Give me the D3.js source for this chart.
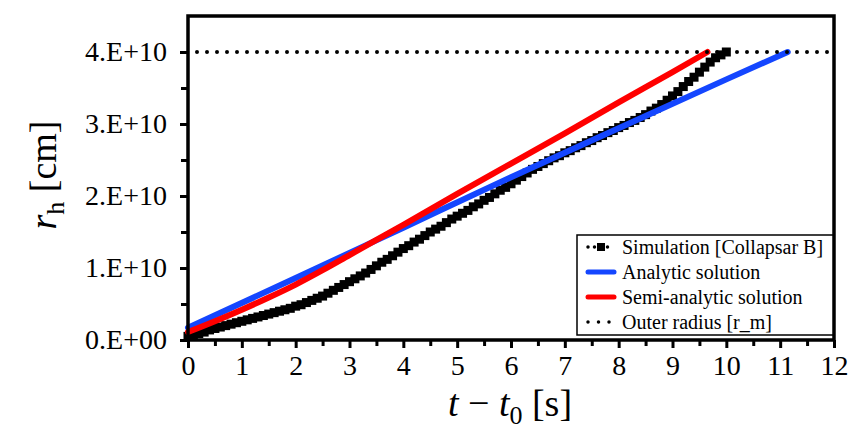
<!DOCTYPE html>
<html>
<head>
<meta charset="utf-8">
<script src="https://cdn.jsdelivr.net/npm/d3@7"></script>
<style>
  body { margin: 0; background: #fff; }
  svg { display: block; font-family: "Liberation Serif", "Times New Roman", serif; }
</style>
</head>
<body>
<div id="chart"></div>
<script>
// values in units of 1e10 cm, time in s
const simT = [0.0, 0.1, 0.2, 0.3, 0.4, 0.5, 0.6, 0.7, 0.8, 0.9,
              1.0, 1.1, 1.2, 1.3, 1.4, 1.5, 1.6, 1.7, 1.8, 1.9,
              2.0, 2.1, 2.2, 2.3, 2.4, 2.5, 2.6, 2.7, 2.8, 2.9,
              3.0, 3.1, 3.2, 3.3, 3.4, 3.5, 3.6, 3.7, 3.8, 3.9,
              4.0, 4.1, 4.2, 4.3, 4.4, 4.5, 4.6, 4.7, 4.8, 4.9,
              5.0, 5.1, 5.2, 5.3, 5.4, 5.5, 5.6, 5.7, 5.8, 5.9,
              6.0, 6.1, 6.2, 6.3, 6.4, 6.5, 6.6, 6.7, 6.8, 6.9,
              7.0, 7.1, 7.2, 7.3, 7.4, 7.5, 7.6, 7.7, 7.8, 7.9,
              8.0, 8.1, 8.2, 8.3, 8.4, 8.5, 8.6, 8.7, 8.8, 8.9,
              9.0, 9.1, 9.2, 9.3, 9.4, 9.5, 9.6, 9.7, 9.8, 9.9, 10.0];
const simR = [0.05, 0.07, 0.09, 0.11, 0.14, 0.16, 0.18, 0.20, 0.22, 0.24,
              0.26, 0.28, 0.30, 0.32, 0.34, 0.36, 0.38, 0.40, 0.42, 0.44,
              0.47, 0.49, 0.52, 0.55, 0.58, 0.61, 0.65, 0.69, 0.73, 0.77,
              0.81, 0.85, 0.89, 0.93, 0.98, 1.03, 1.08, 1.12, 1.17, 1.22,
              1.27, 1.31, 1.36, 1.40, 1.45, 1.50, 1.54, 1.58, 1.63, 1.68,
              1.72, 1.76, 1.80, 1.85, 1.89, 1.94, 1.98, 2.03, 2.08, 2.12,
              2.17, 2.22, 2.27, 2.32, 2.37, 2.41, 2.45, 2.49, 2.53, 2.56,
              2.60, 2.63, 2.67, 2.70, 2.74, 2.77, 2.81, 2.84, 2.88, 2.91,
              2.95, 2.98, 3.02, 3.05, 3.09, 3.13, 3.18, 3.22, 3.27, 3.33,
              3.39, 3.45, 3.52, 3.59, 3.65, 3.72, 3.79, 3.86, 3.92, 3.96, 4.00];

const anaT = [0, 2, 4, 6, 8, 10, 11.14];
const anaR = [0.17, 0.86, 1.56, 2.26, 2.94, 3.62, 4.00];

const semiT = [0, 0.5, 1, 1.5, 2, 2.5, 3, 3.5, 4, 5, 6, 7, 8, 9, 9.65];
const semiR = [0.11, 0.26, 0.42, 0.59, 0.77, 0.97, 1.18, 1.39, 1.60, 2.03, 2.45, 2.87, 3.30, 3.72, 4.00];

const outerR = 4.0;

const xTicks = [0, 1, 2, 3, 4, 5, 6, 7, 8, 9, 10, 11, 12];
const yTicks = [0, 1, 2, 3, 4];
const yTickLabels = ["0.E+00", "1.E+10", "2.E+10", "3.E+10", "4.E+10"];

const legendLabels = ["Simulation [Collapsar B]", "Analytic solution",
                      "Semi-analytic solution", "Outer radius [r_m]"];

const W = 864, H = 432;
const blue = "#1446ff", red = "#ff0000";
const serif = "'Liberation Serif', 'Times New Roman', serif";

const svg = d3.select("#chart").append("svg")
    .attr("width", W).attr("height", H);

const x = d3.scaleLinear().domain([0, 12]).range([188, 834]);
const y = d3.scaleLinear().domain([0, 4.5]).range([340, 16]);

// ticks (major + minor), outward
const xAxis = d3.axisBottom(x).tickValues(xTicks).tickSize(8).tickPadding(7)
    .tickFormat(d3.format("d"));
const xMinor = d3.axisBottom(x).tickValues(d3.range(0.5, 12, 1)).tickSize(6).tickFormat("");
const yAxis = d3.axisLeft(y).tickValues(yTicks).tickSize(8).tickPadding(13)
    .tickFormat((d, i) => yTickLabels[i]);
const yMinor = d3.axisLeft(y).tickValues(d3.range(0.5, 4.5, 1)).tickSize(7).tickFormat("");

const gx = svg.append("g").attr("transform", `translate(0,${y(0)})`).call(xAxis);
svg.append("g").attr("transform", `translate(0,${y(0)})`).call(xMinor);
svg.append("g").attr("transform", `translate(${x(0)},0)`).call(yAxis);
svg.append("g").attr("transform", `translate(${x(0)},0)`).call(yMinor);

svg.selectAll(".domain").remove();
svg.selectAll(".tick line").attr("stroke", "#000").attr("stroke-width", 3);
svg.selectAll(".tick text").attr("fill", "#000")
   .style("font-family", serif).style("font-size", "28px");
gx.selectAll(".tick text").attr("dy", "0.72em");

// data
const plot = svg.append("g");
const line = d3.line().x(d => x(d[0])).y(d => y(d[1])).curve(d3.curveMonotoneX);

const sim = simT.map((t, i) => [t, simR[i]]);
plot.selectAll("rect.sim").data(sim).enter().append("rect")
    .attr("class", "sim")
    .attr("x", d => x(d[0]) - 4.5).attr("y", d => y(d[1]) - 4.5)
    .attr("width", 9).attr("height", 9).attr("fill", "#000");

plot.append("path").datum(anaT.map((t, i) => [t, anaR[i]]))
    .attr("d", line).attr("fill", "none").attr("stroke", blue)
    .attr("stroke-width", 6).attr("stroke-linecap", "round");

plot.append("path").datum(semiT.map((t, i) => [t, semiR[i]]))
    .attr("d", line).attr("fill", "none").attr("stroke", red)
    .attr("stroke-width", 6).attr("stroke-linecap", "round");

plot.append("line")
    .attr("x1", x(0) + 9).attr("x2", x(12) - 3)
    .attr("y1", y(outerR)).attr("y2", y(outerR))
    .attr("stroke", "#000").attr("stroke-width", 4)
    .attr("stroke-linecap", "round").attr("stroke-dasharray", "0 10");

// frame
svg.append("rect")
    .attr("x", x(0)).attr("y", y(4.5))
    .attr("width", x(12) - x(0)).attr("height", y(0) - y(4.5))
    .attr("fill", "none").attr("stroke", "#000").attr("stroke-width", 3.5);

// legend
const lg = svg.append("g");
lg.append("rect").attr("x", 577).attr("y", 235).attr("width", 256).attr("height", 100)
  .attr("fill", "#fff").attr("stroke", "#000").attr("stroke-width", 1.5);

legendLabels.forEach((lab, i) => {
  const yy = 247 + i * 25;
  const row = lg.append("g");
  if (i === 0 || i === 3) {
    row.append("line").attr("x1", 588).attr("x2", 614).attr("y1", yy).attr("y2", yy)
      .attr("stroke", "#000").attr("stroke-width", 3.5).attr("stroke-linecap", "round")
      .attr("stroke-dasharray", i === 0 ? "0 6.5" : "0 10.5");
    if (i === 0) row.append("rect").attr("x", 597).attr("y", yy - 4)
      .attr("width", 8).attr("height", 8).attr("fill", "#000");
  } else {
    row.append("line").attr("x1", 588).attr("x2", 614).attr("y1", yy).attr("y2", yy)
      .attr("stroke", i === 1 ? blue : red).attr("stroke-width", 5)
      .attr("stroke-linecap", "round");
  }
  row.append("text").attr("x", 622).attr("y", yy).attr("dy", "0.34em")
    .style("font-family", serif).style("font-size", "20px").attr("fill", "#000").text(lab);
});

// axis titles
const xt = svg.append("text").attr("x", 510).attr("y", 416)
    .attr("text-anchor", "middle").style("font-family", serif).style("font-size", "38px");
xt.append("tspan").style("font-style", "italic").text("t");
xt.append("tspan").text(" \u2212 ");
xt.append("tspan").style("font-style", "italic").text("t");
xt.append("tspan").attr("dy", 8).style("font-size", "26px").text("0");
xt.append("tspan").attr("dy", -8).text(" [s]");

const yt = svg.append("text")
    .attr("transform", "translate(56,175) rotate(-90)")
    .attr("text-anchor", "middle").style("font-family", serif).style("font-size", "38px");
yt.append("tspan").style("font-style", "italic").text("r");
yt.append("tspan").attr("dy", 8).style("font-size", "26px").text("h");
yt.append("tspan").attr("dy", -8).text(" [cm]");
</script>
</body>
</html>
